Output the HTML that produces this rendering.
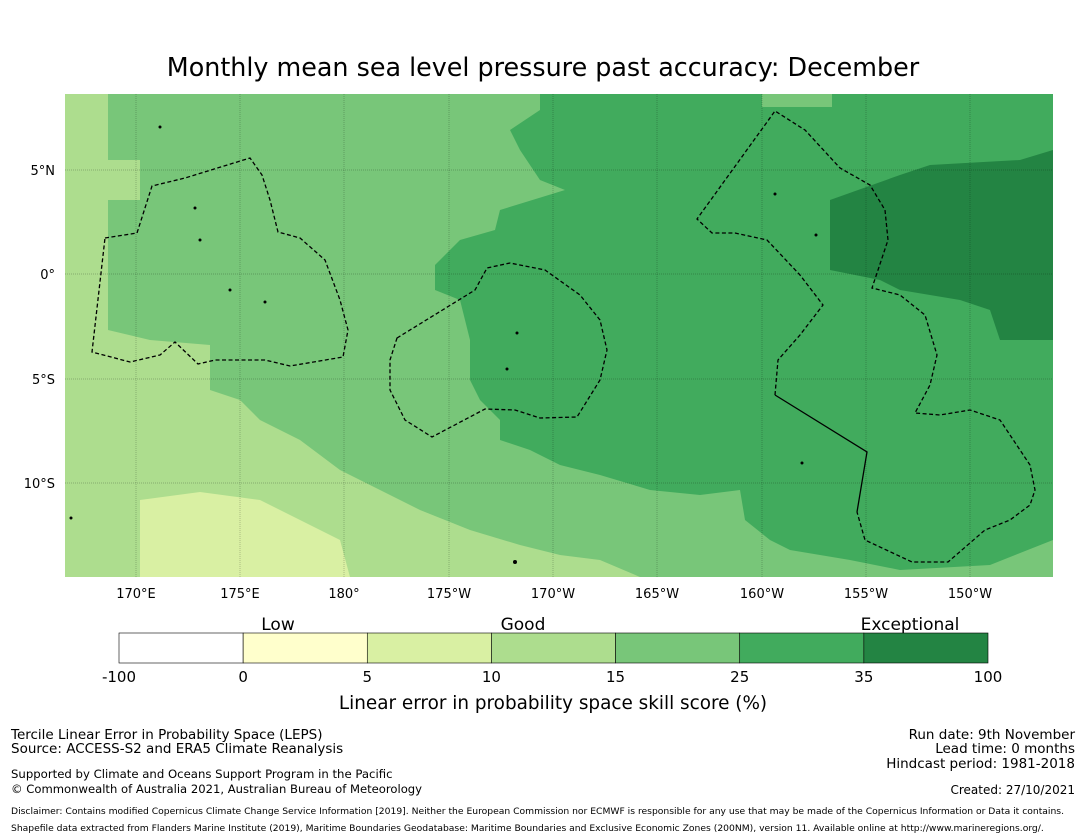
<!DOCTYPE html>
<html><head><meta charset="utf-8"><style>
body{margin:0;background:#fff;width:1085px;height:839px;overflow:hidden;font-family:"Liberation Sans","DejaVu Sans",sans-serif;}
svg{position:absolute;left:0;top:0}
</style></head><body>
<svg width="1085" height="839" font-family="DejaVu Sans, Liberation Sans, sans-serif">
<text x="543" y="76" font-size="25.4" text-anchor="middle">Monthly mean sea level pressure past accuracy: December</text>
<defs><clipPath id="mc"><rect x="65" y="94" width="988" height="483"/></clipPath></defs>
<g clip-path="url(#mc)">
<rect x="65" y="94" width="988" height="483" fill="#78c679"/>
<polygon fill="#addd8e" points="65,94 108,94 108,160 140,160 140,200 108,200 108,330 150,340 210,345 210,390 240,400 260,420 300,440 340,470 380,490 420,510 470,530 520,545 560,555 600,560 640,577 65,577"/>
<polygon fill="#d9f0a3" points="140,500 200,492 260,500 300,520 340,540 350,577 140,577"/>
<rect x="762" y="94" width="70" height="13" fill="#78c679"/>
<polygon fill="#41ab5d" points="540,94 540,110 510,130 520,150 540,180 565,190 500,210 495,230 460,240 435,265 435,290 460,300 470,340 470,380 480,400 500,420 500,440 530,450 560,465 600,475 650,490 700,495 740,490 745,520 770,540 790,550 850,560 900,570 990,565 1053,540 1053,94 832,94 832,107 762,107 762,94"/>
<polygon fill="#238443" points="830,200 900,175 930,165 1020,160 1053,150 1053,340 1000,340 990,310 960,300 900,290 880,280 830,270 830,250"/>
<g stroke="#000" stroke-opacity="0.3" stroke-width="0.7" stroke-dasharray="1,1">
<line x1="136" y1="94" x2="136" y2="577"/><line x1="240" y1="94" x2="240" y2="577"/><line x1="344" y1="94" x2="344" y2="577"/><line x1="449" y1="94" x2="449" y2="577"/><line x1="553" y1="94" x2="553" y2="577"/><line x1="657" y1="94" x2="657" y2="577"/><line x1="762" y1="94" x2="762" y2="577"/><line x1="866" y1="94" x2="866" y2="577"/><line x1="970" y1="94" x2="970" y2="577"/>
<line x1="65" y1="170" x2="1053" y2="170"/><line x1="65" y1="274" x2="1053" y2="274"/><line x1="65" y1="379" x2="1053" y2="379"/><line x1="65" y1="483" x2="1053" y2="483"/>
</g>
<g fill="none" stroke="#000" stroke-width="1.3" stroke-dasharray="4,2.5">
<polygon points="105,238 137,233 152,186 185,178 250,158 262,175 270,200 278,232 300,238 325,260 340,300 348,330 343,357 290,366 265,360 215,360 198,364 175,342 160,355 130,362 92,352"/>
<polygon points="397,338 475,290 487,268 510,263 545,270 580,295 600,320 607,350 600,380 577,417 540,418 515,410 485,409 432,437 405,420 390,390 390,360"/>
<polyline points="775,395 778,360 800,335 823,305 800,275 767,240 735,233 712,233 697,219 775,111 805,130 840,168 870,185 885,210 888,240 872,288 900,295 925,315 937,355 930,385 915,413 940,415 970,410 1000,420 1030,465 1035,490 1030,505 1010,520 985,530 948,562 912,562 865,540 857,512"/>
</g>
<polyline points="775,395 867,452 857,512" fill="none" stroke="#000" stroke-width="1.3"/>
<g fill="#000">
<circle cx="160" cy="127" r="1.5"/><circle cx="195" cy="208" r="1.5"/><circle cx="200" cy="240" r="1.5"/><circle cx="230" cy="290" r="1.5"/><circle cx="265" cy="302" r="1.5"/><circle cx="517" cy="333" r="1.5"/><circle cx="507" cy="369" r="1.5"/><circle cx="775" cy="194" r="1.5"/><circle cx="816" cy="235" r="1.5"/><circle cx="802" cy="463" r="1.5"/><circle cx="515" cy="562" r="2"/><circle cx="71" cy="518" r="1.5"/>
</g>
</g>
<g font-size="13" text-anchor="middle">
<text x="136" y="598">170°E</text><text x="240" y="598">175°E</text><text x="344" y="598">180°</text><text x="449" y="598">175°W</text><text x="553" y="598">170°W</text><text x="657" y="598">165°W</text><text x="762" y="598">160°W</text><text x="866" y="598">155°W</text><text x="970" y="598">150°W</text>
</g>
<g font-size="13" text-anchor="end">
<text x="55" y="175">5°N</text><text x="55" y="279">0°</text><text x="55" y="384">5°S</text><text x="55" y="488">10°S</text>
</g>
<g font-size="17" text-anchor="middle">
<text x="278" y="630">Low</text><text x="523" y="630">Good</text><text x="910" y="630">Exceptional</text>
</g>
<g id="cbar"></g>
<text x="553" y="709" font-size="18.4" text-anchor="middle">Linear error in probability space skill score (%)</text>
<g font-size="13.5">
<text x="11" y="739">Tercile Linear Error in Probability Space (LEPS)</text>
<text x="11" y="753">Source: ACCESS-S2 and ERA5 Climate Reanalysis</text>
<text x="11" y="778" font-size="11.7">Supported by Climate and Oceans Support Program in the Pacific</text>
<text x="11" y="793" font-size="11.6">© Commonwealth of Australia 2021, Australian Bureau of Meteorology</text>
</g>
<g font-size="13.5" text-anchor="end">
<text x="1075" y="739">Run date: 9th November</text>
<text x="1075" y="753">Lead time: 0 months</text>
<text x="1075" y="768">Hindcast period: 1981-2018</text>
<text x="1075" y="794" font-size="12">Created: 27/10/2021</text>
</g>
<g font-size="9.2">
<text x="11" y="814">Disclaimer: Contains modified Copernicus Climate Change Service Information [2019]. Neither the European Commission nor ECMWF is responsible for any use that may be made of the Copernicus Information or Data it contains.</text>
<text x="11" y="831">Shapefile data extracted from Flanders Marine Institute (2019), Maritime Boundaries Geodatabase: Maritime Boundaries and Exclusive Economic Zones (200NM), version 11. Available online at http://www.marineregions.org/.</text>
</g>
</svg>
<script>
const binEdges = ["-100","0","5","10","15","25","35","100"];
const binColors = ["#ffffff","#ffffcc","#d9f0a3","#addd8e","#78c679","#41ab5d","#238443"];
const g = document.getElementById('cbar');
const ns = "http://www.w3.org/2000/svg";
const x0 = 119, x1 = 988, y0 = 633, h = 30;
const w = (x1 - x0) / binColors.length;
binColors.forEach((c, i) => {
  const r = document.createElementNS(ns, 'rect');
  r.setAttribute('x', x0 + i * w); r.setAttribute('y', y0);
  r.setAttribute('width', w); r.setAttribute('height', h);
  r.setAttribute('fill', c); r.setAttribute('stroke', '#000'); r.setAttribute('stroke-width', '0.6');
  
  
  g.appendChild(r);
});
binEdges.forEach((t, i) => {
  const tx = document.createElementNS(ns, 'text');
  tx.setAttribute('x', x0 + i * w); tx.setAttribute('y', 682);
  tx.setAttribute('font-size', '15'); tx.setAttribute('text-anchor', 'middle');
  tx.textContent = t;
  
  
  g.appendChild(tx);
});
</script>
</body></html>
